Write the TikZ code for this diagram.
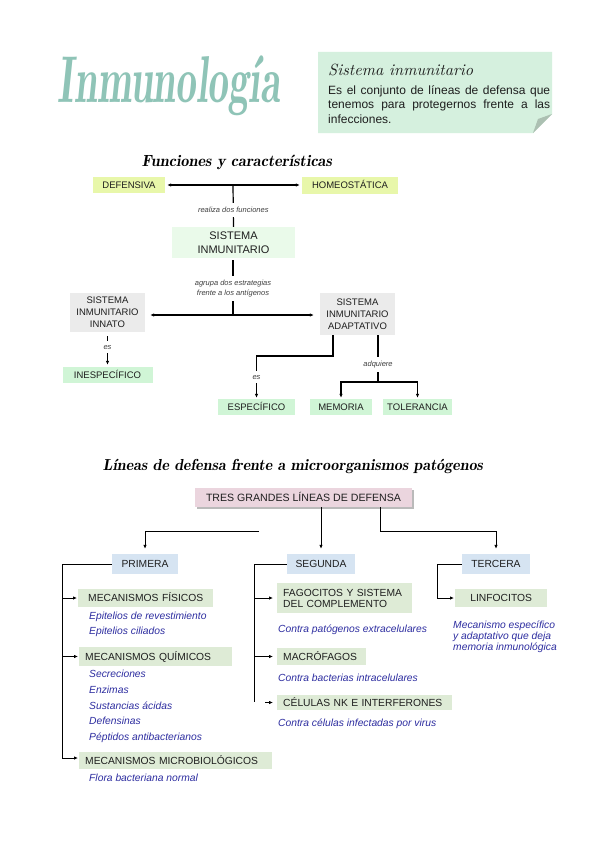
\documentclass[tikz,border=0pt]{standalone}
\usepackage{fontspec}
\usepackage{graphicx}
\setmainfont{Liberation Sans}
\usetikzlibrary{arrows.meta,shadows}
\definecolor{teal1}{RGB}{143,196,183}
\definecolor{notegreen}{RGB}{213,240,222}
\definecolor{foldc}{RGB}{172,192,178}
\definecolor{ygreen}{RGB}{232,247,170}
\definecolor{pgreen}{RGB}{234,250,234}
\definecolor{lgray}{RGB}{235,235,235}
\definecolor{mgreen}{RGB}{208,245,214}
\definecolor{pinkc}{RGB}{235,213,222}
\definecolor{lblue}{RGB}{214,228,242}
\definecolor{sage}{RGB}{222,235,214}
\definecolor{itblue}{RGB}{45,45,160}
\definecolor{txt}{RGB}{30,30,30}
\newcommand{\handf}{\fontfamily{lmr}\fontshape{it}\selectfont}
\begin{document}
\begin{tikzpicture}[x=1pt,y=-1pt,
  box/.style={rectangle, inner sep=0pt, align=center, text=txt},
  one/.style={text height=7pt, text depth=0pt},
  tbox/.style={box, font=\fontsize{9.5}{12}\selectfont},
  bbox/.style={box, font=\fontsize{10.3}{11}\selectfont},
  lbox/.style={bbox, fill=sage, anchor=west, inner xsep=6pt, align=left},
  lab/.style={fill=white, inner xsep=1pt, inner ysep=4pt, font=\fontsize{7.5}{10}\selectfont\itshape, text=black!75, align=center},
  arr/.style={-{Latex[length=4pt,width=3.5pt]}},
  darr/.style={{Latex[length=4pt,width=3.5pt]}-{Latex[length=4pt,width=3.5pt]}},
  tl/.style={line width=1.2pt},
  bl/.style={line width=0.9pt},
  item/.style={anchor=west, inner sep=0pt, text height=7.5pt, text depth=2.5pt, text=itblue, font=\fontsize{10.3}{12}\selectfont\itshape},
]
\useasboundingbox (0,0) rectangle (599,848);
\fill[white] (0,0) rectangle (599,848);

% title and note
\node[text=teal1, inner sep=0pt] (title) at (169,86) {\resizebox*{222pt}{60pt}{\handf\bfseries Inmunología}};
\fill[notegreen] (318,52) -- (552,52) -- (552,114) -- (533,133) -- (318,133) -- cycle;
\fill[foldc] (552,114) -- (533,133) -- (538,119) -- cycle;
\node[anchor=base west, inner sep=0pt, text=txt] (ntitle) at (328,76) {\resizebox{145pt}{!}{\handf Sistema inmunitario}};
\node[anchor=north west, inner sep=0pt, align=left, text=txt, font=\fontsize{12}{14.5}\selectfont] (nbody) at (328,85)
  {\makebox[222pt][s]{Es el conjunto de líneas de defensa que}\\\makebox[222pt][s]{tenemos para protegernos frente a las}\\infecciones.};

% Funciones y caracteristicas
\node[inner sep=0pt, text=black] (h1) at (237,162) {\resizebox{190pt}{!}{\handf\bfseries Funciones y características}};
\node[tbox, one, fill=ygreen, minimum width=72pt, minimum height=16pt] (def) at (129,185) {DEFENSIVA};
\node[tbox, one, fill=ygreen, minimum width=96pt, minimum height=17pt] (hom) at (350,185) {HOMEOSTÁTICA};
\node[box, fill=pgreen, minimum width=123pt, minimum height=31pt, font=\fontsize{11}{14}\selectfont] (sis) at (233.5,242.5) {SISTEMA\\INMUNITARIO};
\node[tbox, fill=lgray, minimum width=75pt, minimum height=39pt] (inn) at (107.5,312.5) {SISTEMA\\INMUNITARIO\\INNATO};
\node[tbox, fill=lgray, minimum width=75pt, minimum height=42pt] (ada) at (357.5,314) {SISTEMA\\INMUNITARIO\\ADAPTATIVO};
\node[tbox, one, fill=mgreen, minimum width=90pt, minimum height=16pt] (ines) at (107.5,375) {INESPECÍFICO};
\node[tbox, one, fill=mgreen, minimum width=77pt, minimum height=16pt] (esp) at (256.5,407) {ESPECÍFICO};
\node[tbox, one, fill=mgreen, minimum width=62pt, minimum height=16pt] (mem) at (341,407) {MEMORIA};
\node[tbox, one, fill=mgreen, minimum width=69pt, minimum height=16pt] (tol) at (417.5,407) {TOLERANCIA};

\coordinate (j1) at (233,185);
\coordinate (j2) at (233,315);
\coordinate (ae) at (333,356);
\coordinate (aq) at (378,382);
\draw[tl,darr,shorten <=2pt,shorten >=2pt] (def.east) -- (hom.west);
\draw[tl] (j1) -- node[lab,pos=0.6]{realiza dos funciones} (sis.north);
\draw[tl,shorten <=2pt] (sis.south -| j2) -- node[lab,pos=0.54]{agrupa dos estrategias\\frente a los antígenos} (j2);
\draw[tl,darr,shorten <=5pt,shorten >=6pt] (inn.east |- j2) -- (ada.west |- j2);
\draw[tl,arr,shorten <=4pt,shorten >=2pt] (inn.south) -- node[lab,pos=0.43]{es} (ines.north);
\draw[tl,arr,shorten >=1pt] (ada.south -| ae) -- (ae) -| node[lab,pos=0.75]{es} (esp.north);
\draw[tl] (ada.south -| aq) -- node[lab,pos=0.62]{adquiere} (aq);
\draw[tl,arr,shorten >=1pt] (aq) -| (mem.north);
\draw[tl,arr,shorten >=1pt] (aq) -| (tol.north);

% Lineas de defensa
\node[inner sep=0pt, text=black] (h2) at (293,466) {\resizebox{380pt}{!}{\handf\bfseries Líneas de defensa frente a microorganismos patógenos}};
\node[bbox, one, fill=pinkc, minimum width=217pt, minimum height=19pt, font=\fontsize{10.6}{12}\selectfont,
  drop shadow={shadow xshift=1.5pt,shadow yshift=-1.5pt,fill=black!45,opacity=0.6}] (tres) at (303.5,497.5) {TRES GRANDES LÍNEAS DE DEFENSA};
\node[bbox, one, fill=lblue, minimum width=66pt, minimum height=20pt] (pri) at (145,564) {PRIMERA};
\node[bbox, one, fill=lblue, minimum width=68pt, minimum height=20pt] (seg) at (321,564) {SEGUNDA};
\node[bbox, one, fill=lblue, minimum width=68pt, minimum height=20pt] (ter) at (496,564) {TERCERA};

\coordinate (p0) at (259,531);
\coordinate (t1) at (380,531);
\draw[bl,arr,shorten >=5pt] (p0) -| (pri.north);
\draw[bl,arr,shorten >=5pt] (tres.south -| seg.north) -- (seg.north);
\draw[bl,arr,shorten >=5pt] (tres.south -| t1) -- (t1) -| (ter.north);

% primera
\node[lbox, one, inner xsep=5pt, text width=125pt, align=center, minimum height=18pt] (fis) at (78,598) {MECANISMOS FÍSICOS};
\node[lbox, one, text width=141pt, minimum height=19pt] (qui) at (79,656.5) {MECANISMOS QUÍMICOS};
\node[lbox, one, text width=181pt, minimum height=17pt] (mic) at (79,760.5) {MECANISMOS MICROBIOLÓGICOS};
\coordinate (pb) at (62,758);
\draw[bl] (pri.west) -| (pb);
\draw[bl,arr,shorten >=1pt] (fis.west -| pb) -- (fis.west);
\draw[bl,arr,shorten >=1pt] (qui.west -| pb) -- (qui.west);
\draw[bl,arr,shorten >=1pt] (pb) -- (pb -| mic.west);
\node[item] (i1) at (89,617) {Epitelios de revestimiento};
\node[item] (i2) at (89,632) {Epitelios ciliados};
\node[item] (i3) at (89,675) {Secreciones};
\node[item] (i4) at (89,691) {Enzimas};
\node[item] (i5) at (89,707) {Sustancias ácidas};
\node[item] (i6) at (89,722) {Defensinas};
\node[item] (i7) at (89,738) {Péptidos antibacterianos};
\node[item] (i8) at (89,779) {Flora bacteriana normal};

% segunda
\node[lbox, text width=123pt, minimum height=30pt] (fag) at (277,598) {FAGOCITOS Y SISTEMA\\DEL COMPLEMENTO};
\node[lbox, one, text width=77pt, minimum height=17pt] (mac) at (277,656.5) {MACRÓFAGOS};
\node[lbox, one, text width=163pt, minimum height=15pt] (cel) at (277,702.5) {CÉLULAS NK E INTERFERONES};
\coordinate (sv) at (254,702);
\coordinate (cs) at (265,702.5);
\draw[bl] (seg.west) -| (sv);
\draw[bl,arr,shorten >=4pt] (fag.west -| sv) -- (fag.west);
\draw[bl,arr,shorten >=4pt] (mac.west -| sv) -- (mac.west);
\draw[bl,arr,shorten >=4pt] (cs) -- (cel.west);
\node[item] (s1) at (278,630) {Contra patógenos extracelulares};
\node[item] (s2) at (278,679) {Contra bacterias intracelulares};
\node[item] (s3) at (278,724) {Contra células infectadas por virus};

% tercera
\node[bbox, one, fill=sage, anchor=west, minimum width=92pt, minimum height=18pt] (lin) at (455,598) {LINFOCITOS};
\coordinate (tv) at (437,598);
\draw[bl,arr,shorten >=1pt] (ter.west) -| (tv) -- (lin.west);
\node[item] (t1a) at (453,626) {Mecanismo específico};
\node[item] (t2a) at (453,637) {y adaptativo que deja};
\node[item] (t3a) at (453,648) {memoria inmunológica};
\end{tikzpicture}
\end{document}
